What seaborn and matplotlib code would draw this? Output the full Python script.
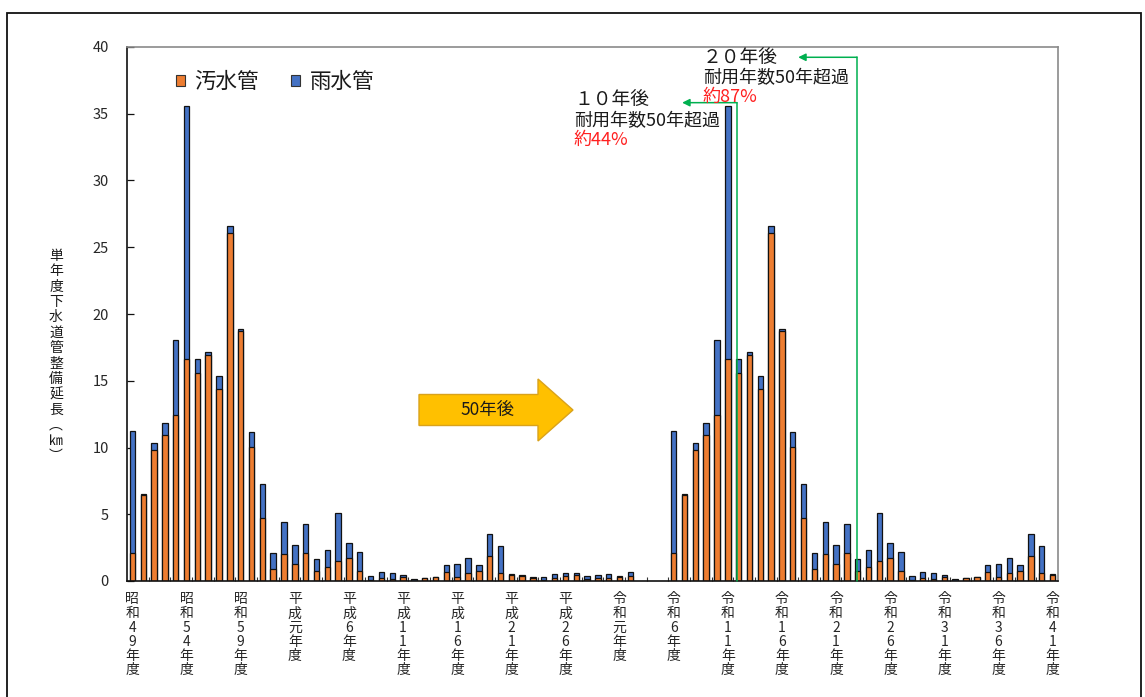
import numpy as np
import pandas as pd
import matplotlib
matplotlib.use("Agg")
import matplotlib.pyplot as plt
import seaborn as sns
from matplotlib.patches import Patch, Polygon, Rectangle

# ---- data: annual sewer pipe construction length (km) ----
years = list(range(1974, 2021))
sewage = [2.10, 6.42, 9.80, 10.90, 12.43, 16.60, 15.60, 16.93, 14.40, 26.04,
          18.70, 10.06, 4.69, 0.87, 2.05, 1.30, 2.12, 0.72, 1.05, 1.50,
          1.75, 0.75, 0.05, 0.20, 0.12, 0.30, 0.03, 0.22, 0.28, 0.67,
          0.27, 0.60, 0.75, 1.87, 0.62, 0.45, 0.40, 0.25, 0.05, 0.25,
          0.35, 0.45, 0.17, 0.22, 0.25, 0.30, 0.40]
storm = [9.10, 0.10, 0.50, 0.90, 5.60, 19.00, 1.00, 0.25, 0.95, 0.55,
         0.15, 1.10, 2.55, 1.25, 2.37, 1.40, 2.15, 0.90, 1.30, 3.62,
         1.07, 1.45, 0.32, 0.47, 0.50, 0.16, 0.12, 0.00, 0.02, 0.55,
         1.00, 1.15, 0.45, 1.65, 2.03, 0.05, 0.02, 0.02, 0.22, 0.25,
         0.22, 0.12, 0.18, 0.20, 0.25, 0.05, 0.25]
shift_years = 50
first_year, last_year = 1974, 2059

tick_years = list(range(1974, 2060, 5))
tick_labels = ["昭和49年度", "昭和54年度", "昭和59年度", "平成元年度", "平成6年度",
               "平成11年度", "平成16年度", "平成21年度", "平成26年度", "令和元年度",
               "令和6年度", "令和11年度", "令和16年度", "令和21年度", "令和26年度",
               "令和31年度", "令和36年度", "令和41年度"]
series_names = ["汚水管", "雨水管"]
ylabel = "単年度下水道管整備延長（㎞）"

c_sewage = "#ED7D31"
c_storm = "#4472C4"
c_green = "#00B050"

# actual record plus the same record moved 50 years ahead
actual = pd.DataFrame({"year": years, "sewage": sewage, "storm": storm})
ahead = actual.copy()
ahead["year"] = ahead["year"] + shift_years
ahead = ahead[ahead["year"] <= last_year]
df = pd.concat([actual, ahead], ignore_index=True)
df["total"] = df["sewage"] + df["storm"]

sns.set_style("white")
plt.rcParams["font.family"] = ["Noto Sans CJK JP", "DejaVu Sans"]
plt.rcParams["text.color"] = "#1a1a1a"

W, H = 1145, 697
fig = plt.figure(figsize=(W / 100, H / 100), dpi=100)
ax = fig.add_axes([127 / W, 1 - 581 / H, 931 / W, 534 / H])


def fx(px):
    return px / W


def fy(py):
    return 1 - py / H


bar_kw = dict(native_scale=True, width=0.5, errorbar=None, saturation=1,
              edgecolor="#111111", linewidth=0.9, ax=ax)
sns.barplot(data=df, x="year", y="total", color=c_storm, **bar_kw)
sns.barplot(data=df, x="year", y="sewage", color=c_sewage, **bar_kw)

ax.set_xlim(first_year - 0.5, last_year + 0.5)
ax.set_ylim(0, 40)
ax.set_yticks(np.arange(0, 41, 5))
ax.set_xticks(tick_years)
ax.set_xticklabels(["\n".join(t) for t in tick_labels], fontsize=10,
                   linespacing=1.02)
ax.set_xticks(np.arange(first_year + 1.5, last_year, 2), minor=True)
ax.tick_params(axis="x", which="major", length=0, pad=8)
ax.tick_params(axis="x", which="minor", direction="in", length=3, width=0.8,
               color="#333333", bottom=True)
ax.tick_params(axis="y", direction="in", length=5, width=0.9, pad=13,
               labelsize=10.5, left=True, color="#111111")
ax.set_xlabel("")
ax.set_ylabel("")
ax.grid(False)

for side in ["left", "bottom"]:
    ax.spines[side].set_color("#111111")
    ax.spines[side].set_linewidth(1.2)
for side in ["top", "right"]:
    ax.spines[side].set_color("#8a8a8a")
    ax.spines[side].set_linewidth(1.2)

# vertical y-axis title
vlabel = ylabel.replace("（", "︵").replace("）", "︶")
fig.text(fx(56), fy(356), "\n".join(vlabel), ha="center", va="center",
         fontsize=10, linespacing=1.13)

# legend
handles = [Patch(facecolor=c_sewage, edgecolor="#333333", linewidth=0.8),
           Patch(facecolor=c_storm, edgecolor="#333333", linewidth=0.8)]
ax.legend(handles, series_names, loc="center left",
          bbox_to_anchor=((176 - 127) / 931, (581 - 82) / 534),
          ncol=2, frameon=False, fontsize=15.5, handlelength=0.4,
          handleheight=0.4, handletextpad=0.45, columnspacing=1.5,
          borderpad=0, borderaxespad=0)

# "50年後" block arrow
ay = (581 - 410) / 534
bx0, bx1, tip = (419 - 127) / 931, (538 - 127) / 931, (573 - 127) / 931
bh, hh = 15.5 / 534, 31 / 534
arrow = Polygon([(bx0, ay - bh), (bx1, ay - bh), (bx1, ay - hh), (tip, ay),
                 (bx1, ay + hh), (bx1, ay + bh), (bx0, ay + bh)],
                closed=True, facecolor="#FFC000", edgecolor="#D9A21B",
                linewidth=1, transform=ax.transAxes, zorder=5)
ax.add_patch(arrow)
ax.text((487 - 127) / 931, ay, "50年後", transform=ax.transAxes, ha="center",
        va="center", fontsize=12.5, zorder=6)

# 10 / 20 year leader lines
leaders = [(2029.86, 35.83, 2024.78), (2040.92, 39.23, 2035.50)]
for x_line, y_top, x_tip in leaders:
    ax.plot([x_line, x_line], [0, y_top], color=c_green, lw=1.1, zorder=7,
            clip_on=False)
    ax.annotate("", xy=(x_tip, y_top), xytext=(x_line, y_top),
                arrowprops=dict(arrowstyle="-|>", color=c_green, lw=1.1,
                                mutation_scale=11, shrinkA=0, shrinkB=0),
                zorder=7, annotation_clip=False)

fig.text(fx(574), fy(100), "１０年後", fontsize=13.5, va="center", ha="left")
fig.text(fx(574), fy(121), "耐用年数50年超過", fontsize=13, va="center", ha="left")
fig.text(fx(574), fy(140), "約44%", fontsize=13, va="center", ha="left",
         color="#FF2020")
fig.text(fx(703), fy(58), "２０年後", fontsize=13.5, va="center", ha="left")
fig.text(fx(703), fy(78), "耐用年数50年超過", fontsize=13, va="center", ha="left")
fig.text(fx(703), fy(97), "約87%", fontsize=13, va="center", ha="left",
         color="#FF2020")

# outer frame
fig.add_artist(Rectangle((fx(7), -0.05), fx(1141 - 7), fy(12.7) + 0.05,
                         transform=fig.transFigure, fill=False,
                         edgecolor="#111111", linewidth=1.3))

fig.savefig("out.png", dpi=100)
